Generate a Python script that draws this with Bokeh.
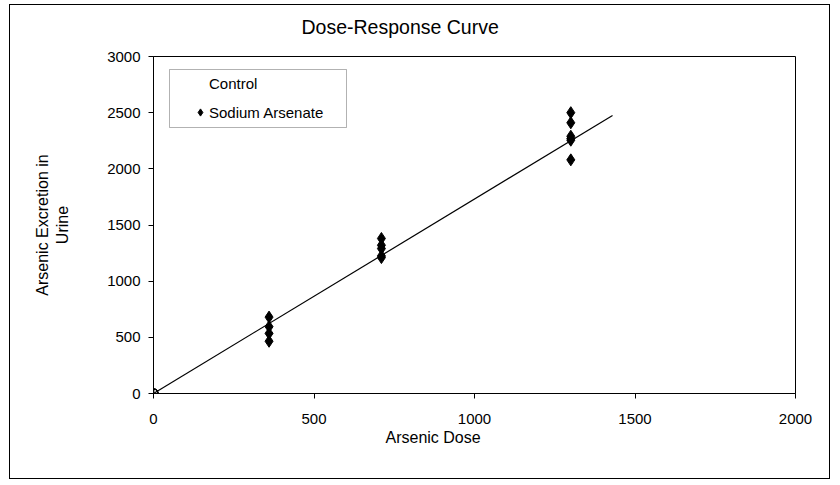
from bokeh.plotting import figure
from bokeh.models import (Legend, LegendItem, BoxAnnotation, Range1d,
                          FixedTicker, LinearAxis, Title)
from bokeh.embed import file_html
from bokeh.resources import INLINE

# ---- data ----
x_ticks = [0, 500, 1000, 1500, 2000]
y_ticks = [0, 500, 1000, 1500, 2000, 2500, 3000]

control_dose = [0, 0, 0, 0, 0]
control_resp = [0, 0, 0, 0, 0]

arsenate_dose = [360, 360, 360, 360,
                 710, 710, 710, 710, 710,
                 1300, 1300, 1300, 1300, 1300, 1300]
arsenate_resp = [680, 595, 535, 465,
                 1380, 1320, 1290, 1225, 1210,
                 2500, 2410, 2290, 2270, 2255, 2080]

trend_dose = [0, 1430]
trend_resp = [0, 2475]

FONT = "Liberation Sans"

# canvas 821x475 placed at (10,5) in the page; frame = page x 153..795, y 56..393
p = figure(width=821, height=475,
           x_range=Range1d(0, 2000), y_range=Range1d(0, 3000),
           output_backend="svg", toolbar_location=None,
           min_border_left=143, min_border_right=36,
           min_border_top=51, min_border_bottom=87)
p.margin = (4, 0, 0, 9)
p.styles = {"border": "1px solid #000000"}
p.title.visible = False
p.background_fill_color = "white"
p.border_fill_color = "white"
p.outline_line_color = "black"
p.outline_line_width = 1
p.outline_line_alpha = 1
p.xgrid.visible = False
p.ygrid.visible = False

for ax, ticks in ((p.xaxis[0], x_ticks), (p.yaxis[0], y_ticks)):
    ax.ticker = FixedTicker(ticks=ticks)
    ax.axis_line_color = "black"
    ax.major_tick_line_color = "black"
    ax.major_tick_out = 5
    ax.major_tick_in = 0
    ax.minor_tick_line_color = None
    ax.major_label_text_font = FONT
    ax.major_label_text_font_size = "15px"
    ax.major_label_text_color = "black"
p.xaxis[0].major_label_standoff = 15
p.yaxis[0].major_label_standoff = 8

# y axis title (two lines, centred)
yax = p.yaxis[0]
yax.axis_label = "Arsenic Excretion in\nUrine"
yax.axis_label_standoff = 33
yax.axis_label_text_font = FONT
yax.axis_label_text_font_size = "16px"
yax.axis_label_text_font_style = "normal"
yax.axis_label_text_color = "black"

# invisible spacer axis above the frame (hidden tick, empty label),
# then the chart title outside it
spacer = LinearAxis(ticker=FixedTicker(ticks=[0]), axis_line_color=None,
                    major_tick_line_color=None, minor_tick_line_color=None,
                    major_tick_out=18, major_tick_in=0,
                    minor_tick_out=0, minor_tick_in=0, major_label_standoff=0,
                    major_label_overrides={0: ""})
p.add_layout(spacer, "above")
p.add_layout(Title(text="Dose-Response Curve", align="left", offset=148,
                   standoff=2, text_font=FONT, text_font_size="19.5px",
                   text_font_style="normal", text_color="black"), "above")

# x axis title, placed left of centre like the reference
p.add_layout(Title(text="Arsenic Dose", align="left", offset=232,
                   standoff=0, text_font=FONT, text_font_size="16px",
                   text_font_style="normal", text_color="black"), "below")

# trend line
p.line(trend_dose, trend_resp, line_color="black", line_width=1.2)

# control markers
p.scatter(control_dose, control_resp, marker="circle_cross", size=9,
          fill_color=None, line_color="black", line_width=1.2)
control_leg = p.scatter(control_dose, control_resp, marker="circle",
                        size=1, alpha=0)

# sodium arsenate diamonds
ars = p.scatter(arsenate_dose, arsenate_resp, marker="diamond", size=12,
                fill_color="black", line_color="black")

# legend border box
box = BoxAnnotation(left=16, right=193, top=324, bottom=266,
                    left_units="screen", right_units="screen",
                    top_units="screen", bottom_units="screen",
                    fill_alpha=0, line_color="black", line_width=1)
p.add_layout(box)

legend = Legend(items=[LegendItem(label="Control", renderers=[control_leg]),
                       LegendItem(label="Sodium Arsenate", renderers=[ars])],
                location=(38, 269), padding=0, spacing=5,
                glyph_width=18, glyph_height=24, label_height=24,
                label_standoff=-1,
                border_line_alpha=0, background_fill_alpha=0,
                label_text_font=FONT, label_text_font_size="15px",
                label_text_color="black")
p.add_layout(legend, "center")

open("out.html", "w").write(file_html(p, INLINE))
